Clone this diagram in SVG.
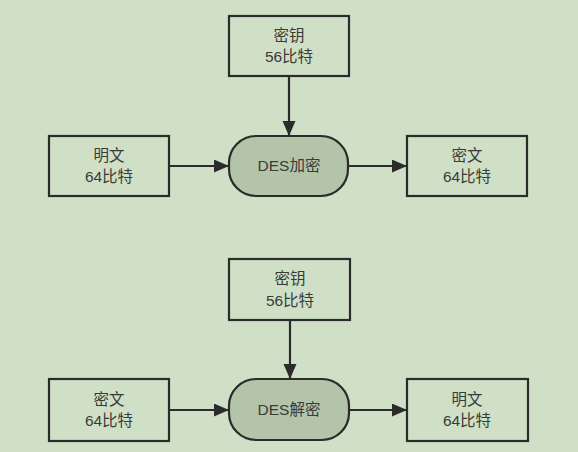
<svg xmlns="http://www.w3.org/2000/svg" width="578" height="452" viewBox="0 0 578 452">
<style>
.box{fill:none;stroke:#2b2b2b;stroke-width:2.2}
.pill{fill:#b3c4a8;stroke:#2b2b2b;stroke-width:2.2}
.t{font-family:"Liberation Sans","Noto Sans CJK SC",sans-serif;font-size:15.5px;fill:#3a3a3a;text-anchor:middle}
.c{stroke:#2b2b2b;stroke-width:2.2;fill:none;marker-end:url(#ah)}
</style>
<defs>
<marker id="ah" markerUnits="userSpaceOnUse" markerWidth="16" markerHeight="14" refX="15" refY="6.5" orient="auto">
<path d="M0,0 L15,6.5 L0,13 Z" fill="#2b2b2b"/>
</marker>
</defs>
<rect width="578" height="452" fill="#cfe0c6"/>
<g id="connectors">
<line class="c" x1="289" y1="76" x2="289" y2="136"/>
<line class="c" x1="169" y1="166" x2="229" y2="166"/>
<line class="c" x1="348" y1="166" x2="407" y2="166"/>
<line class="c" x1="290" y1="320" x2="290" y2="379"/>
<line class="c" x1="169" y1="410" x2="229" y2="410"/>
<line class="c" x1="349" y1="410" x2="407" y2="410"/>
</g>
<g id="key1">
<rect class="box" x="229" y="16" width="120" height="60"/>
<text class="t" x="289" y="41">密钥</text>
<text class="t" x="289" y="62">56比特</text>
</g>
<g id="plain1">
<rect class="box" x="49" y="136" width="120" height="60"/>
<text class="t" x="109" y="161">明文</text>
<text class="t" x="109" y="182">64比特</text>
</g>
<g id="enc">
<rect class="pill" x="229" y="136" width="119" height="60" rx="27" ry="27"/>
<text class="t" x="289" y="171">DES加密</text>
</g>
<g id="cipher1">
<rect class="box" x="407" y="136" width="120" height="60"/>
<text class="t" x="467" y="161">密文</text>
<text class="t" x="467" y="182">64比特</text>
</g>
<g id="key2">
<rect class="box" x="229" y="259" width="121" height="61"/>
<text class="t" x="290" y="284">密钥</text>
<text class="t" x="290" y="306">56比特</text>
</g>
<g id="cipher2">
<rect class="box" x="49" y="379" width="120" height="62"/>
<text class="t" x="109" y="405">密文</text>
<text class="t" x="109" y="426">64比特</text>
</g>
<g id="dec">
<rect class="pill" x="229" y="379" width="120" height="61" rx="27" ry="27"/>
<text class="t" x="289" y="415">DES解密</text>
</g>
<g id="plain2">
<rect class="box" x="407" y="379" width="121" height="62"/>
<text class="t" x="467" y="405">明文</text>
<text class="t" x="467" y="426">64比特</text>
</g>
</svg>
